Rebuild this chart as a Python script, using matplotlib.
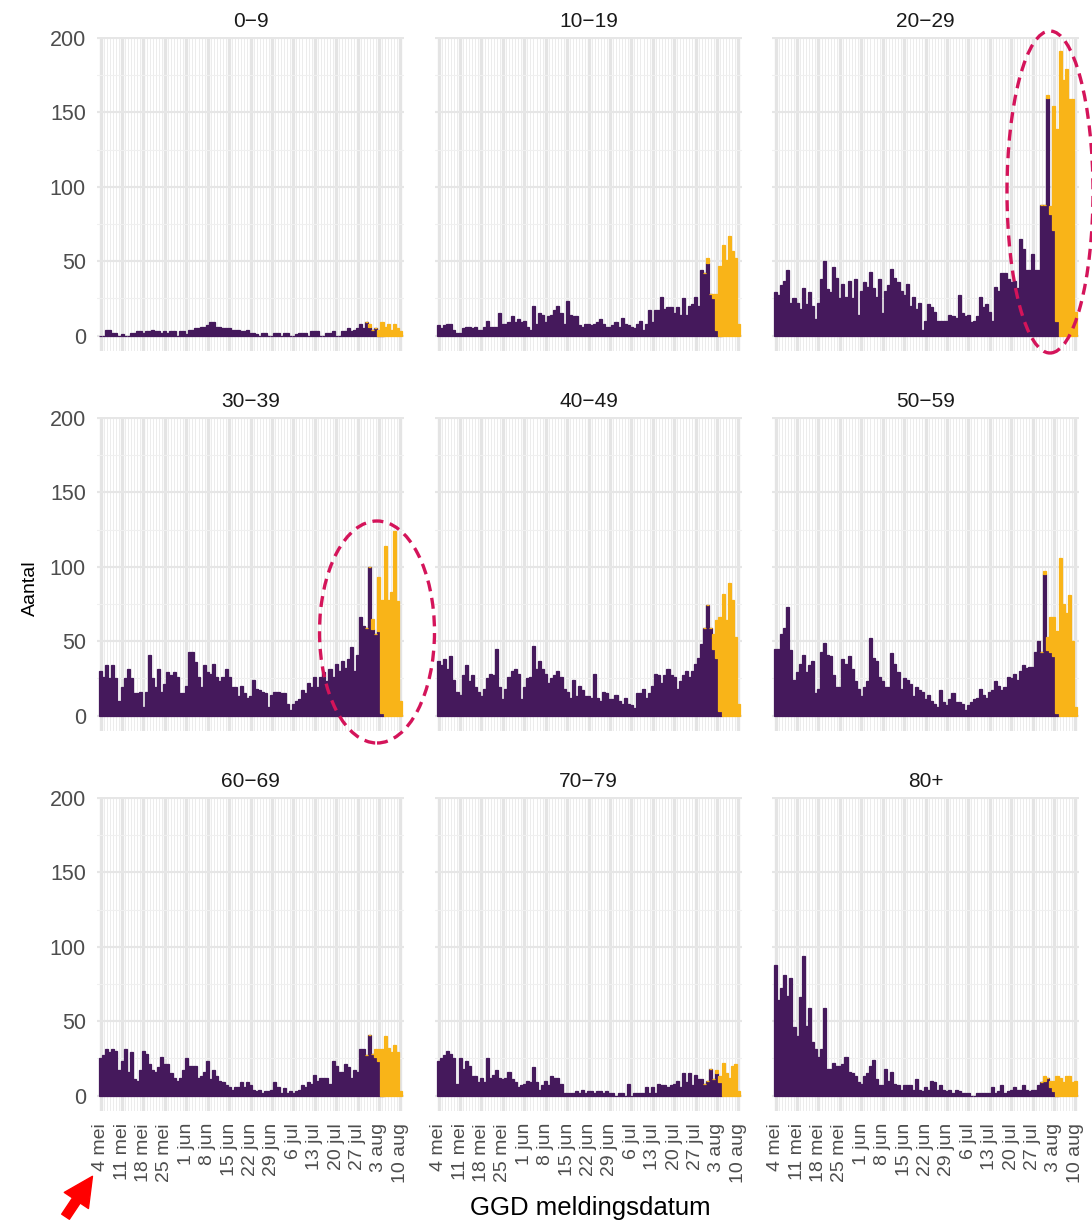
import numpy as np
import pandas as pd
import matplotlib
matplotlib.use("Agg")
import matplotlib.pyplot as plt
from matplotlib.patches import Ellipse, FancyArrowPatch

plt.rcParams['font.family'] = ['Liberation Sans', 'DejaVu Sans']

# daily reports per age group, 4 May - 10 Aug 2020
first_day = "2020-05-04"
n_days = 99
tail_from = 87          # yellow arrays start at this day index (stacked on purple)

groups = ["0-9", "10-19", "20-29", "30-39", "40-49", "50-59", "60-69", "70-79", "80+"]
tick_labels = ["4 mei", "11 mei", "18 mei", "25 mei", "1 jun", "8 jun", "15 jun", "22 jun",
               "29 jun", "6 jul", "13 jul", "20 jul", "27 jul", "3 aug", "10 aug"]

purple_0_9 = [0,0,4,4,2,2,0,1,0,0, 2,2,3,3,2,3,3,4,3,3, 2,3,2,3,3,0,3,3,1,4,
              4,5,5,6,6,7,9,9,6,6, 5,5,5,4,4,4,3,3,4,2, 2,1,0,2,2,0,0,2,2,0,
              2,2,0,0,1,2,2,2,0,3, 3,3,0,0,2,2,3,0,0,3, 3,5,3,4,5,8,5,9,6,4, 5,0,0]
yellow_0_9 = [0,2,0,0,4,9,6,8,4,8,5,3]

purple_10_19 = [7,5,7,8,8,4,2,2,5,6, 6,5,6,4,4,6,10,6,6,6, 15,8,8,9,13,9,11,9,10,6,
                4,20,8,15,14,9,13,14,17,20, 15,8,23,14,13,13,7,6,8,8, 7,8,9,11,8,6,6,7,9,6,
                12,8,7,6,5,8,10,4,8,17, 9,17,17,26,18,19,19,15,19,14, 25,14,20,21,26,20,44,42,49,28,
                25,4,0]
yellow_10_19 = [0,3,0,3,24,47,61,51,67,57,52,8]

purple_20_29 = [29,27,34,37,44,22,25,22,18,32, 21,29,20,11,22,38,50,31,29,46,
                39,25,35,26,37,25,38,14,30,36, 33,43,32,26,38,15,30,34,45,39,
                36,30,27,35,20,26,18,22,4,10, 21,19,16,10,10,10,10,14,13,12,
                27,15,13,14,9,10,13,26,19,21, 16,10,33,30,42,42,38,36,37,32,
                65,58,44,44,55,44,44,88,88,160, 82,71,10]
yellow_20_29 = [0,0,2,5,83,129,191,172,179,159,159,16]

purple_30_39 = [30,26,34,25,34,25,10,19,25,31, 25,15,15,16,6,16,41,25,19,31,
                16,21,29,27,29,26,15,15,20,43, 43,36,26,19,34,29,28,35,26,23,
                26,31,26,19,19,13,20,15,12,13, 24,18,17,16,15,6,14,16,16,15,
                15,8,4,8,10,11,17,15,22,19, 26,19,26,29,23,31,26,35,30,37,
                32,38,46,30,41,66,60,59,100,58, 55,57,2]
yellow_30_39 = [0,0,7,0,36,76,114,78,83,124,77,10]

purple_40_49 = [37,34,38,31,40,24,16,14,27,34, 23,27,19,16,13,18,25,28,27,45,
                19,11,18,26,30,31,28,11,19,25, 26,47,31,37,31,28,22,25,27,30,
                26,18,16,12,24,13,20,17,13,13, 12,28,12,10,16,15,11,11,14,10,
                8,12,8,7,5,15,15,18,12,15, 20,28,27,22,27,31,27,26,18,23,
                27,30,26,30,35,39,48,59,74,59, 45,39,3]
yellow_40_49 = [0,0,0,10,25,63,82,64,89,78,53,8]

purple_50_59 = [45,45,55,59,73,44,24,29,35,41, 29,34,37,15,18,43,49,41,40,27,
                19,19,38,35,40,31,23,18,13,19, 23,52,39,37,26,23,19,19,42,35,
                29,18,25,24,21,13,19,17,16,11, 14,10,8,6,17,9,7,11,15,9,
                9,8,4,7,9,11,12,18,14,12, 16,17,23,20,17,19,26,25,28,24,
                30,34,32,33,33,43,50,43,95,44, 43,40,2]
yellow_50_59 = [0,2,9,23,26,55,106,75,69,81,50,6]

purple_60_69 = [25,27,31,29,31,30,17,23,31,16, 29,11,10,17,30,28,21,17,16,19,
                26,21,21,15,12,10,12,17,25,20, 20,20,12,13,16,23,11,17,13,10,
                9,7,6,4,6,6,9,6,9,7, 4,3,4,2,3,3,4,9,6,2,
                5,2,3,2,3,4,7,6,9,8, 14,10,12,12,12,8,23,20,16,16,
                21,19,12,17,16,31,31,27,41,28, 26,23,0]
yellow_60_69 = [0,0,0,5,8,31,40,32,29,34,29,3]

purple_70_79 = [23,25,27,30,28,25,8,25,18,23, 20,13,13,9,12,9,25,12,14,17,
                12,11,12,16,11,9,6,7,8,10, 9,19,9,4,7,10,7,13,12,12,
                8,2,2,2,2,3,2,4,2,3, 3,2,3,3,2,3,2,2,0,2,
                2,0,8,0,2,2,2,2,6,2, 6,2,8,7,7,6,7,8,10,6,
                15,9,15,7,14,11,11,8,10,18, 11,15,9]
yellow_70_79 = [0,0,0,0,2,4,22,15,12,20,21,3]

purple_80 = [88,64,72,81,67,79,46,40,66,94, 47,59,36,31,26,31,59,18,18,22,
             20,20,21,26,16,15,13,9,8,13, 15,20,24,11,7,7,18,10,16,8,
             7,4,7,7,7,4,11,4,3,6, 4,10,9,4,7,4,3,4,2,4,
             3,2,2,2,0,0,2,2,2,2, 2,6,2,3,7,2,3,4,6,4,
             4,7,4,3,4,4,7,9,10,12, 6,3,0]
yellow_80 = [0,3,0,4,7,13,12,9,13,13,9,10]

purples = [purple_0_9, purple_10_19, purple_20_29, purple_30_39, purple_40_49,
           purple_50_59, purple_60_69, purple_70_79, purple_80]
yellows = [yellow_0_9, yellow_10_19, yellow_20_29, yellow_30_39, yellow_40_49,
           yellow_50_59, yellow_60_69, yellow_70_79, yellow_80]

PURPLE = "#45195c"
YELLOW = "#f9b418"

W, H = 1092, 1222
dates = pd.date_range(first_day, periods=n_days, freq="D")
one_day = pd.Timedelta(days=1)

fig = plt.figure(figsize=(W / 100, H / 100), dpi=100)

lefts = [97, 435, 772]
tops = [36.5, 416.5, 796.5]
pw, ph = 307, 314

for k, name in enumerate(groups):
    r, c = divmod(k, 3)
    ax = fig.add_axes([lefts[c] / W, 1 - (tops[r] + ph) / H, pw / W, ph / H])

    pv = np.array(purples[k], dtype=float)
    full = np.zeros(n_days)
    full[:len(pv)] = pv
    ax.bar(dates[:len(pv)], pv, width=1.0, color=PURPLE, edgecolor=PURPLE, linewidth=0.9)
    yv = np.array(yellows[k], dtype=float)
    ax.bar(dates[tail_from:], yv, width=1.0, bottom=full[tail_from:], color=YELLOW,
           edgecolor=YELLOW, linewidth=0.9)

    ax.set_xlim(dates[0] - 1.2 * one_day, dates[-1] + 1.2 * one_day)
    ax.set_ylim(-10, 201)
    ax.set_yticks([0, 50, 100, 150, 200])
    ax.set_yticks([25, 75, 125, 175], minor=True)
    ax.set_xticks(dates[::7])
    ax.set_xticks(dates, minor=True)
    ax.grid(which="major", axis="x", color="#e4e4e4", linewidth=2.4)
    ax.grid(which="minor", axis="x", color="#ececec", linewidth=0.7)
    ax.grid(which="major", axis="y", color="#e6e6e6", linewidth=1.5)
    ax.grid(which="minor", axis="y", color="#f0f0f0", linewidth=0.8)
    ax.set_axisbelow(True)
    for s in ax.spines.values():
        s.set_visible(False)
    ax.tick_params(which="both", length=0)
    ax.tick_params(axis="y", labelsize=15.5, labelcolor="#4d4d4d", pad=8)
    ax.tick_params(axis="x", labelsize=14, labelcolor="#4d4d4d", pad=9)

    if c == 0:
        ax.set_yticklabels(["0", "50", "100", "150", "200"])
    else:
        ax.tick_params(axis="y", labelleft=False)
    if r == 2:
        ax.set_xticklabels(tick_labels, rotation=90, ha="center", va="top")
    else:
        ax.tick_params(axis="x", labelbottom=False)

    ax.set_title(name.replace("-", "\u2212"), fontsize=15, color="#1a1a1a", pad=7)

# annotations on the figure
ring = "#d4145a"
for cx, cy, ew, eh in [(1050, 192, 86, 322), (377, 632, 115, 222)]:
    fig.add_artist(Ellipse((cx / W, 1 - cy / H), ew / W, eh / H, transform=fig.transFigure,
                           fill=False, edgecolor=ring, linewidth=2.4, linestyle=(0, (3.3, 2.0))))

fig.add_artist(FancyArrowPatch((64 / W, 1 - 1219 / H), (94 / W, 1 - 1174 / H),
                               transform=fig.transFigure, color="#ff0000",
                               arrowstyle="simple,head_length=1.1,head_width=1.1,tail_width=0.35",
                               mutation_scale=19))

fig.text(30 / W, 1 - 588 / H, "Aantal", rotation=90, ha="center", va="center", fontsize=14)
fig.text(590 / W, 1 - 1208 / H, "GGD meldingsdatum", ha="center", va="center", fontsize=18.5)

fig.savefig("out.png", dpi=100)
